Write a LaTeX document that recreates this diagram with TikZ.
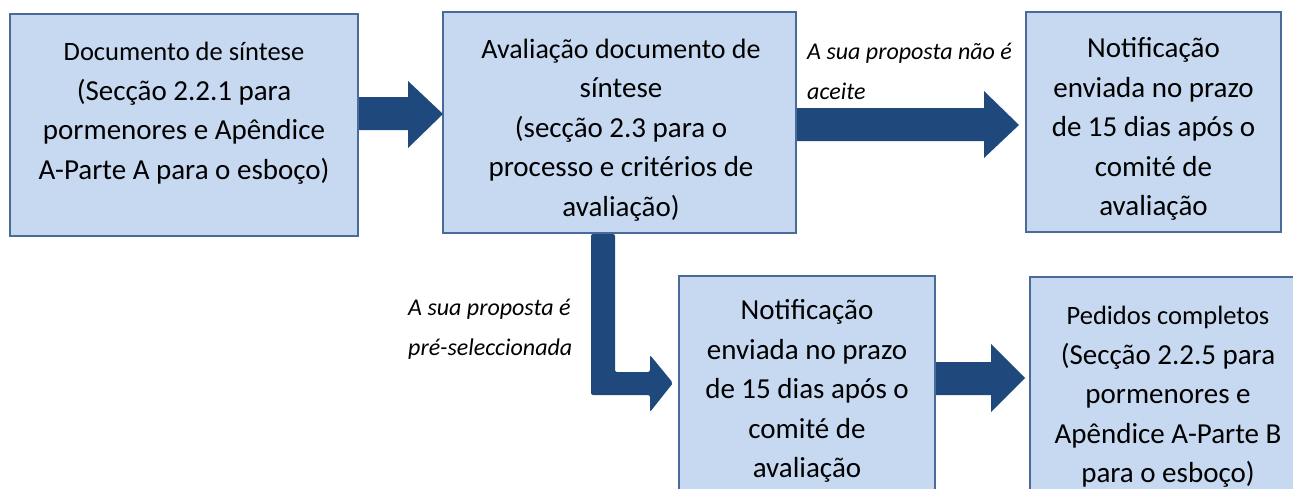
\documentclass[tikz,border=0pt]{standalone}
\usepackage{fontspec}
\setmainfont{Carlito}
\usetikzlibrary{calc}
\definecolor{boxfill}{HTML}{C6D9F1}
\definecolor{boxline}{HTML}{4A6A9A}
\definecolor{arrowblue}{HTML}{1F497D}
\newcommand{\smallfirst}{\fontsize{26.5}{39.5}\selectfont}
\newcommand{\bigrest}{\fontsize{29}{39.5}\selectfont}
\begin{document}
\begin{tikzpicture}[x=1pt,y=-1pt,
  box/.style={draw=boxline, line width=2pt, fill=boxfill, inner sep=0pt},
  txt/.style={align=center, font=\fontsize{29}{39.5}\selectfont, inner sep=0pt},
  lbl/.style={align=left, font=\fontsize{24}{40}\selectfont\itshape, inner sep=0pt, anchor=west},
  arr/.style={fill=arrowblue, draw=none}]
\useasboundingbox (0,0) rectangle (1293,488);
\clip (0,0) rectangle (1293,488);
\fill[white] (0,0) rectangle (1293,488);
% boxes
\node[box, minimum width=348pt, minimum height=222pt] (b1) at (184,125) {};
\node[box, minimum width=353pt, minimum height=221pt] (b2) at (619.5,122.5) {};
\node[box, minimum width=255pt, minimum height=220pt] (b3) at (1153.5,122) {};
\node[box, minimum width=256pt, minimum height=224pt] (b4) at (807,388) {};
\node[box, minimum width=277pt, minimum height=224pt] (b5) at (1168.5,389) {};
% arrows
\fill[arr] (b1.east |- 0,97) -- (408,97) -- (408,81) -- (443,114) -- (408,148) -- (408,130) -- (b1.east |- 0,130) -- cycle;
\fill[arr] (b2.east |- 0,108) -- (984,108) -- (984,91) -- (1019,125) -- (984,158) -- (984,141) -- (b2.east |- 0,141) -- cycle;
\fill[arr, rounded corners=2pt] (591,0 |- b2.south) -- (615,0 |- b2.south) -- (615,372) -- (650,372) -- (650,355) -- (673,383) -- (650,412) -- (650,395) -- (591,395) -- cycle;
\fill[arr] (b4.east |- 0,362) -- (991,362) -- (991,344) -- (1025,378) -- (991,412) -- (991,395) -- (b4.east |- 0,395) -- cycle;
% texts
\node[txt] (t1) at (184,113) {\smallfirst Documento de síntese\\\bigrest (Secção 2.2.1 para\\pormenores e Apêndice\\A-Parte A para o esboço)};
\node[txt] (t2) at (621,130) {\fontsize{28}{39.5}\selectfont Avaliação documento de\\\bigrest síntese\\(secção 2.3 para o\\processo e critérios de\\avaliação)};
\node[txt] (t3) at (1153.5,129) {Notificação\\enviada no prazo\\de 15 dias após o\\comité de\\avaliação};
\node[txt] (t4) at (807,391) {Notificação\\enviada no prazo\\de 15 dias após o\\comité de\\avaliação};
\node[txt] (t5) at (1168,397) {\smallfirst Pedidos completos\\\bigrest (Secção 2.2.5 para\\pormenores e\\Apêndice A-Parte B\\para o esboço)};
% labels
\node[lbl] (l1) at (807,71) {A sua proposta não é\\aceite};
\node[lbl] (l2) at (408,329.5) {A sua proposta é\\pré-seleccionada};
\end{tikzpicture}
\end{document}
